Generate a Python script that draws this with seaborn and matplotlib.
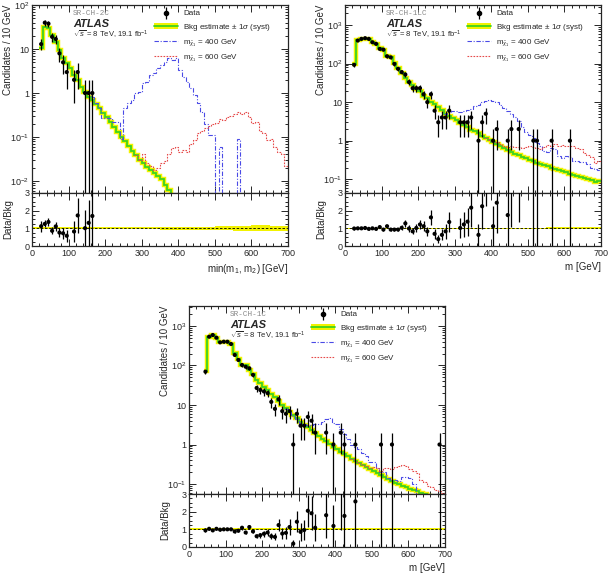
import numpy as np
import matplotlib
matplotlib.use('Agg')
import matplotlib.pyplot as plt
import seaborn as sns
from matplotlib.patches import Patch
from matplotlib.lines import Line2D
from matplotlib.ticker import LogLocator, MultipleLocator, FuncFormatter, NullFormatter

# ---- SR-CH-2C (top left) ----
tl_bkg_start = 20
tl_bkg = [10.5, 32, 30, 21, 14.4, 9.5, 6.2, 4.8, 3.7, 2.6, 2.0, 1.37, 1.05, 0.81, 0.7, 0.55,
          0.45, 0.36, 0.28, 0.22, 0.17, 0.13, 0.10, 0.08, 0.062, 0.048, 0.038, 0.030, 0.025,
          0.021, 0.018, 0.015, 0.013, 0.011, 0.008, 0.0062, 0.0045, 0.0035]
tl_s400_start = 150
tl_s400 = [1.0, 0.8, 0.6, 0.45, 0.27, 0.27, 0.27, 0.22, 0.22, 0.09, 0.46, 0.6, 0.7, 1.0, 1.05,
           1.7, 1.8, 2.6, 2.8, 3.7, 4.3, 5.1, 6.2, 5.6, 6.2, 3.3, 2.3, 1.8, 1.3, 0.9, 0.6, 0.37,
           0.2, 0.11, 0.11, 1e-5, 0.06, 1e-5, 1e-5, 1e-5, 1e-5, 0.09, 1e-5]
tl_s600_start = 280
tl_s600 = [0.038, 0.03, 0.04, 0.026, 0.022, 0.018, 0.02, 0.025, 0.028, 0.04, 0.055, 0.06, 0.045,
           0.05, 0.045, 0.07, 0.085, 0.12, 0.14, 0.16, 0.18, 0.2, 0.21, 0.25, 0.24, 0.29, 0.3,
           0.33, 0.37, 0.33, 0.37, 0.28, 0.21, 0.22, 0.14, 0.12, 0.085, 0.09, 0.06, 0.045, 0.04,
           0.022]
tl_data_bins = [20, 30, 40, 50, 60, 70, 80, 90, 110, 120, 140, 150, 160]
tl_data = [13, 40, 38, 19, 17, 8, 5, 3, 2, 3, 1, 1, 1]
tl_ratio = [1.12, 1.25, 1.36, 0.86, 1.11, 0.76, 0.72, 0.58, 0.82, 1.73, 1.01, 1.31, 1.7]
tl_syst = [0.05, 0.05, 0.05, 0.05, 0.05, 0.05, 0.05, 0.07, 0.08, 0.08, 0.12, 0.15, 0.17, 0.14]

# ---- SR-CH-1LC (top right) ----
tr_bkg_start = 20
tr_bkg = [95, 400, 430, 440, 425, 365, 330, 250, 230, 160, 150, 105, 78, 58, 41, 33, 28, 22.5,
          19, 14.3, 12.6, 9.9, 8.7, 7.7, 6.4, 4.8, 4.4, 3.9, 3.4, 2.95, 2.5, 2.2, 1.9, 1.75, 1.6,
          1.35, 1.2, 1.05, 0.9, 0.82, 0.74, 0.66, 0.58, 0.52, 0.46, 0.42, 0.38, 0.35, 0.32, 0.3,
          0.27, 0.25, 0.23, 0.215, 0.2, 0.185, 0.17, 0.16, 0.15, 0.138, 0.13, 0.122, 0.115,
          0.108, 0.1, 0.095, 0.085, 0.09]
tr_s400_start = 270
tr_s400 = [4.8, 5.5, 6, 6, 5.7, 6, 6.2, 6.5, 8, 8.5, 10, 10.5, 11.5, 11, 10, 8.5, 7, 6, 5, 4,
           3.3, 2.2, 1.7, 1.4, 1.2, 0.85, 0.75, 0.55, 0.5, 0.65, 0.6, 0.4, 0.35, 0.4, 0.38, 0.3,
           0.3, 0.28, 0.28, 0.25, 0.2, 0.18, 0.17]
tr_s600_start = 380
tr_s600 = [1.2, 1.05, 0.95, 0.9, 0.8, 0.75, 0.7, 0.72, 0.68, 0.7, 0.65, 0.7, 0.72, 0.7, 0.65,
           0.6, 0.7, 0.78, 0.75, 0.8, 0.75, 0.78, 0.75, 0.75, 0.72, 0.65, 0.6, 0.48, 0.42, 0.38,
           0.27, 0.3]
tr_data_bins = [20, 30, 40, 50, 60, 70, 80, 90, 100, 110, 120, 130, 140, 150, 160, 170, 180,
                190, 200, 210, 220, 230, 240, 250, 260, 270, 280, 310, 320, 330, 340, 360, 370,
                380, 400, 410, 440, 450, 470, 510, 520, 560, 610]
tr_data = [93, 395, 437, 455, 437, 357, 325, 240, 230, 155, 145, 98, 73, 60, 52, 33, 23, 23, 23,
           16, 10, 16, 6, 3, 4, 4, 6, 3, 3, 3, 4, 1, 3, 5, 1, 2, 1, 2, 2, 1, 1, 1, 1]
tr_ratio = [0.99, 1.0, 1.0, 1.02, 0.97, 1.0, 0.97, 1.07, 0.93, 1.12, 0.93, 0.93, 0.93, 1.03,
            1.28, 0.99, 0.83, 1.02, 1.22, 1.12, 0.83, 1.62, 0.69, 0.39, 0.63, 0.83, 1.36, 1.02,
            1.22, 1.38, 2.17, 0.63, 2.25, 4.1, 1.12, 2.45, 1.75, 3.6, 4.6, 3.3, 3.7, 5.2, 8.0]
tr_syst = [0.04, 0.04, 0.04, 0.04, 0.04, 0.04, 0.04, 0.04, 0.04, 0.04, 0.04, 0.05, 0.06, 0.05]

# ---- SR-CH-1C (bottom) ----
b_bkg_start = 40
b_bkg = [72, 530, 580, 500, 395, 400, 400, 340, 210, 150, 105, 100, 78, 62, 44, 36, 29, 23.5,
         19, 15.5, 12.5, 10, 8.2, 6.7, 5.5, 4.6, 3.8, 3.2, 2.75, 2.3, 1.95, 1.65, 1.4, 1.2, 1.03,
         0.88, 0.76, 0.66, 0.57, 0.5, 0.44, 0.39, 0.34, 0.3, 0.27, 0.24, 0.215, 0.19, 0.17,
         0.15, 0.135, 0.12, 0.108, 0.098, 0.09, 0.082, 0.076, 0.07, 0.065, 0.06, 0.055, 0.05,
         0.046, 0.042, 0.039, 0.036]
b_s400_start = 260
b_s400 = [8, 6.5, 5.3, 4.3, 3.5, 3.3, 3.1, 3.1, 3.3, 3.4, 3.8, 4.3, 4.6, 3.6, 3.3, 2.5, 1.9,
          1.4, 1.0, 0.85, 0.75, 0.6, 0.5, 0.37, 0.37, 0.25, 0.2, 0.2, 0.14, 0.13, 0.13, 0.12,
          0.15, 0.15, 0.14, 0.1, 1e-5]
b_s600_start = 440
b_s600 = [0.44, 0.39, 0.34, 0.3, 0.28, 0.25, 0.27, 0.25, 0.22, 0.25, 0.25, 0.24, 0.27, 0.28,
          0.3, 0.29, 0.24, 0.22, 0.19, 0.13, 0.11, 0.09, 0.085, 0.07, 0.065, 0.06]
b_data_bins = [40, 50, 60, 70, 80, 90, 100, 110, 120, 130, 140, 150, 160, 170, 180, 190, 200,
               210, 220, 230, 240, 250, 260, 270, 280, 290, 300, 310, 320, 330, 340, 370, 390,
               410, 420, 450, 520, 550, 680]
b_data = [70, 535, 590, 505, 385, 400, 400, 350, 185, 138, 103, 93, 85, 58, 27, 24, 22, 20, 12,
          8, 14, 7, 6, 7, 1, 6, 3, 3, 5, 4, 2, 2, 1, 2, 1, 1, 1, 1, 1]
b_ratio = [0.94, 1.03, 0.94, 1.03, 0.98, 1.0, 1.0, 1.0, 0.88, 0.92, 1.09, 0.82, 1.13, 0.88,
           0.61, 0.67, 0.75, 0.82, 0.61, 0.57, 1.24, 0.76, 0.8, 1.13, 0.19, 1.43, 0.86, 0.96,
           2.05, 1.91, 1.09, 1.8, 1.19, 3.3, 1.76, 2.58, 5.9, 8.3, 26]
b_syst = [0.05, 0.05, 0.05, 0.05, 0.05, 0.05, 0.05, 0.05, 0.05, 0.05, 0.05, 0.05, 0.05, 0.05]

BIN = 10
GREEN = '#3ed21e'
YELLOW = '#f2f200'
BLUE = '#4a4ae6'
RED = '#e64a4a'

sns.set_style('ticks')
plt.rcParams['font.family'] = ['Liberation Sans', 'DejaVu Sans']
plt.rcParams['mathtext.fontset'] = 'custom'
plt.rcParams['mathtext.rm'] = 'Liberation Sans'
plt.rcParams['mathtext.it'] = 'Liberation Sans:italic'
plt.rcParams['mathtext.bf'] = 'Liberation Sans:bold'
plt.rcParams['axes.linewidth'] = 0.9


def edges(start, vals):
    return start + BIN * np.arange(len(vals) + 1)


def log_fmt(v, pos):
    e = int(round(np.log10(v)))
    if e == 0:
        return '1'
    if e == 1:
        return '10'
    return r'$10^{%d}$' % e


def style_axis(ax):
    ax.tick_params(which='both', direction='in', top=True, right=True, labelsize=6.5,
                   width=0.7, pad=2)
    ax.tick_params(which='major', length=5)
    ax.tick_params(which='minor', length=2.5)
    ax.set_xlim(0, 700)
    ax.xaxis.set_major_locator(MultipleLocator(100))
    ax.xaxis.set_minor_locator(MultipleLocator(20))


def draw_panel(fig, left, bottom, bkg_start, bkg, s4_start, s4, s6_start, s6,
               dbins, dvals, ratio, syst, region, ylim, xlabel):
    w, hm, hr = 256 / 615, 188 / 581, 53 / 581
    ax = fig.add_axes([left, bottom + hr, w, hm])
    rx = fig.add_axes([left, bottom, w, hr], sharex=ax)

    # main panel
    e = edges(bkg_start, bkg)
    ax.stairs(bkg, e, baseline=None, color=YELLOW, lw=3.2, zorder=1)
    ax.stairs(bkg, e, baseline=None, color=GREEN, lw=1.3, zorder=2)
    ax.stairs(s4, edges(s4_start, s4), baseline=None, color=BLUE, lw=0.8,
              ls=(0, (4, 1.5, 1, 1.5)), zorder=3)
    ax.stairs(s6, edges(s6_start, s6), baseline=None, color=RED, lw=0.8,
              ls=(0, (1.5, 1.2)), zorder=3)

    x = np.array(dbins) + BIN / 2
    n = np.array(dvals, dtype=float)
    err = np.sqrt(n)
    lo = np.minimum(err, n - 1e-6)
    ax.errorbar(x, n, yerr=[lo, err], fmt='none', ecolor='black', elinewidth=0.9, zorder=4)
    sns.scatterplot(x=x, y=n, ax=ax, color='black', s=9, edgecolor='none', zorder=5)
    ax.set_yscale('log')
    ax.set_ylim(*ylim)
    style_axis(ax)
    ax.yaxis.set_major_locator(LogLocator(base=10))
    ax.yaxis.set_minor_locator(LogLocator(base=10, subs=np.arange(2, 10)))
    ax.yaxis.set_major_formatter(FuncFormatter(log_fmt))
    ax.yaxis.set_minor_formatter(NullFormatter())
    ax.tick_params(labelbottom=False)
    ax.set_ylabel('Candidates / 10 GeV', fontsize=7, loc='top')
    ax.yaxis.set_label_coords(-0.075, 1.0)

    ax.text(0.16, 0.955, region, transform=ax.transAxes, fontsize=5.5,
            family='Liberation Mono', color='#888888', va='center')
    ax.text(0.16, 0.9, 'ATLAS', transform=ax.transAxes, fontsize=8,
            weight='bold', style='italic', va='center')
    ax.text(0.16, 0.84, r'$\sqrt{s}$ = 8 TeV, 19.1 fb$^{-1}$', transform=ax.transAxes,
            fontsize=5.5, va='center')

    handles = [
        (Line2D([], [], color='black', marker='|', ms=8, mew=0.9, ls='none'),
         Line2D([], [], color='black', marker='o', ms=3, ls='none')),
        (Patch(facecolor=YELLOW, edgecolor='none'), Line2D([], [], color=GREEN, lw=1.3)),
        Line2D([], [], color=BLUE, lw=0.8, ls=(0, (4, 1.5, 1, 1.5))),
        Line2D([], [], color=RED, lw=0.8, ls=(0, (1.5, 1.2))),
    ]
    labels = ['Data', r'Bkg estimate $\pm$ 1$\sigma$ (syst)',
              r'm$_{\tilde{\chi}_{1}}$ = 400 GeV', r'm$_{\tilde{\chi}_{1}}$ = 600 GeV']
    ax.legend(handles, labels, loc='upper left', bbox_to_anchor=(0.475, 0.975),
              frameon=False, fontsize=5.8, handlelength=3.0, handletextpad=0.7,
              labelspacing=0.55, borderpad=0, borderaxespad=0)

    # ratio panel
    s = np.repeat(syst, 5)
    re = np.arange(0, 701, BIN)
    band = np.append(s, s[-1])
    rx.fill_between(re, 1 - band, 1 + band, step='post', color=YELLOW, lw=0, zorder=1)
    rx.axhline(1, color='black', lw=0.6, ls=(0, (3, 2)), zorder=2)
    r = np.array(ratio)
    rerr = r / np.sqrt(n)
    rx.errorbar(x, r, yerr=[np.minimum(rerr, r), rerr], fmt='none', ecolor='black',
                elinewidth=0.9, zorder=4)
    sns.scatterplot(x=x, y=r, ax=rx, color='black', s=9, edgecolor='none', zorder=5)
    rx.set_ylim(0, 3)
    style_axis(rx)
    rx.yaxis.set_major_locator(MultipleLocator(1))
    rx.yaxis.set_minor_locator(MultipleLocator(0.25))
    rx.set_ylabel('Data/Bkg', fontsize=7)
    rx.yaxis.set_label_coords(-0.075, 0.5)
    rx.set_xlabel(xlabel, fontsize=7, loc='right', labelpad=3)
    return ax, rx


fig = plt.figure(figsize=(6.15, 5.81), dpi=100)

draw_panel(fig, 32 / 615, 1 - 246 / 581, tl_bkg_start, tl_bkg, tl_s400_start, tl_s400,
           tl_s600_start, tl_s600, tl_data_bins, tl_data, tl_ratio, tl_syst,
           'SR-CH-2C', (0.0053, 101), r'min(m$_1$, m$_2$) [GeV]')
draw_panel(fig, 345 / 615, 1 - 246 / 581, tr_bkg_start, tr_bkg, tr_s400_start, tr_s400,
           tr_s600_start, tr_s600, tr_data_bins, tr_data, tr_ratio, tr_syst,
           'SR-CH-1LC', (0.044, 3300), 'm [GeV]')
draw_panel(fig, 189 / 615, 1 - 547 / 581, b_bkg_start, b_bkg, b_s400_start, b_s400,
           b_s600_start, b_s600, b_data_bins, b_data, b_ratio, b_syst,
           'SR-CH-1C', (0.056, 3200), 'm [GeV]')

fig.savefig('out.png', dpi=100)
